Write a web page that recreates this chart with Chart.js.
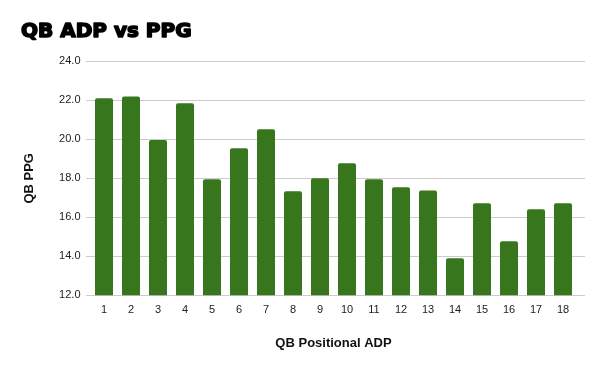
<!DOCTYPE html>
<html><head><meta charset="utf-8">
<script src="https://cdn.jsdelivr.net/npm/chart.js@4/dist/chart.umd.min.js"></script>
<style>html,body{margin:0;padding:0;background:#fff}#wrap{width:600px;height:371px}</style>
</head><body><div id="wrap"><canvas id="c" width="600" height="371"></canvas></div>
<script>
const categories = ['1','2','3','4','5','6','7','8','9','10','11','12','13','14','15','16','17','18'];
const ppg = [22.1, 22.2, 19.97, 21.85, 17.95, 19.54, 20.51, 17.33, 18.0, 18.77, 17.95, 17.54, 17.38, 13.9, 16.72, 14.77, 16.41, 16.72];
const yMin = 12, yMax = 24, yStep = 2;
const chartTitle = 'QB ADP vs PPG';

const gridPlugin = {
  id: 'extGrid',
  beforeDatasetsDraw(chart) {
    const y = chart.scales.y, ctx = chart.ctx;
    ctx.save();
    ctx.strokeStyle = '#cccccc';
    ctx.lineWidth = 1;
    y.ticks.forEach(t => {
      const py = Math.round(y.getPixelForValue(t.value)) + 0.5;
      ctx.beginPath();
      ctx.moveTo(86, py);
      ctx.lineTo(585, py);
      ctx.stroke();
    });
    ctx.restore();
  }
};
const titlePlugin = {
  id: 'heavyTitle',
  afterDraw(chart) {
    const ctx = chart.ctx;
    ctx.save();
    ctx.font = 'bold 20px "DejaVu Sans"';
    ctx.fillStyle = '#000'; ctx.strokeStyle = '#000'; ctx.lineWidth = 1.6; ctx.lineJoin = 'round';
    ctx.textBaseline = 'alphabetic'; ctx.textAlign = 'left';
    ctx.strokeText(chartTitle, 21, 37);
    ctx.fillText(chartTitle, 21, 37);
    ctx.restore();
  }
};

new Chart(document.getElementById('c'), {
  type: 'bar',
  data: { labels: categories, datasets: [{ data: ppg, backgroundColor: '#38761d', borderRadius: {topLeft: 2, topRight: 2}, borderSkipped: 'bottom', categoryPercentage: 0.667, barPercentage: 1.0 }] },
  options: {
    responsive: false, animation: false,
    layout: { padding: { left: 20, right: 23.5, top: 61.3, bottom: 0 } },
    plugins: { legend: { display: false }, tooltip: { enabled: false }, title: { display: false } },
    scales: {
      x: {
        grid: { display: false, drawTicks: false }, border: { display: false },
        ticks: { color: '#222', font: { family: 'Liberation Sans', size: 11 }, padding: 8, maxRotation: 0 },
        title: { display: true, text: 'QB Positional ADP', color: '#111', font: { family: 'Liberation Sans', size: 13, weight: 'bold' }, padding: { top: 0, bottom: 20 } },
        afterFit(s) { s.height = 75.7; }
      },
      y: {
        min: yMin, max: yMax,
        grid: { display: false, drawTicks: false }, border: { display: false },
        ticks: { stepSize: yStep, color: '#222', font: { family: 'Liberation Sans', size: 11 }, padding: 10, callback: v => v.toFixed(1) },
        title: { display: true, text: 'QB PPG', color: '#111', font: { family: 'Liberation Sans', size: 13, weight: 'bold' }, padding: { top: 2, bottom: 2 } },
        afterFit(s) { s.width = 70.5; }
      }
    }
  },
  plugins: [gridPlugin, titlePlugin]
});
</script></body></html>
